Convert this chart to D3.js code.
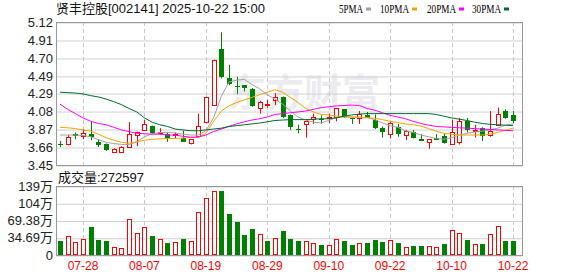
<!DOCTYPE html>
<html>
<head>
<meta charset="utf-8">
<script src="https://cdn.jsdelivr.net/npm/d3@7"></script>
<style>
  body { margin: 0; background: #fff; }
  svg text { font-family: "Liberation Sans", "Noto Sans CJK SC", sans-serif; }
</style>
</head>
<body>
<div id="chart"></div>
<script>
// trading days shown
const dates = ["07-23","07-24","07-25","07-28","07-29","07-30","07-31","08-01","08-04","08-05",
  "08-06","08-07","08-08","08-11","08-12","08-13","08-14","08-15","08-18","08-19",
  "08-20","08-21","08-22","08-25","08-26","08-27","08-28","08-29","09-01","09-02",
  "09-03","09-04","09-05","09-08","09-09","09-10","09-11","09-12","09-15","09-16",
  "09-17","09-18","09-19","09-22","09-23","09-24","09-25","09-26","09-29","09-30",
  "10-09","10-10","10-13","10-14","10-15","10-16","10-17","10-20","10-21","10-22"];

const opens = [3.70,3.70,3.81,3.79,3.81,3.72,3.695,3.60,3.60,3.66,
  3.80,3.86,3.90,3.83,3.81,3.80,3.77,3.70,3.79,3.95,
  4.16,4.81,4.47,4.375,4.38,4.34,4.12,4.155,4.21,4.24,
  4.03,3.875,3.92,3.99,3.985,4.005,4.01,4.10,3.995,3.99,
  4.03,3.98,3.88,3.81,3.89,3.80,3.84,3.75,3.72,3.77,
  3.79,3.70,3.72,3.96,3.855,3.88,3.80,3.92,4.08,4.03];
const closes = [3.695,3.78,3.79,3.82,3.77,3.69,3.62,3.64,3.66,3.81,
  3.83,3.93,3.82,3.84,3.76,3.81,3.72,3.75,3.91,4.24,
  4.68,4.48,4.40,4.37,4.35,4.14,4.19,4.165,4.24,4.01,
  3.89,3.87,3.96,4.01,3.98,4.01,4.11,4.01,3.99,4.04,
  4.00,3.89,3.83,3.94,3.81,3.85,3.77,3.73,3.75,3.75,
  3.71,3.84,3.96,3.85,3.86,3.79,3.85,4.05,4.00,3.96];
const highs = [3.73,3.80,3.83,3.87,3.96,3.75,3.70,3.645,3.67,3.95,
  3.84,3.98,3.91,3.88,3.83,3.83,3.85,3.75,4.05,4.25,
  4.68,5.00,4.62,4.48,4.38,4.35,4.20,4.21,4.29,4.25,
  4.04,3.92,3.965,4.05,4.03,4.05,4.11,4.10,4.00,4.08,
  4.07,4.04,3.90,3.95,3.93,3.86,3.86,3.81,3.75,3.81,
  3.82,3.98,4.00,4.00,3.92,3.89,4.08,4.12,4.10,4.08];
const lows = [3.66,3.68,3.75,3.75,3.74,3.66,3.615,3.60,3.60,3.66,
  3.67,3.86,3.81,3.80,3.72,3.76,3.72,3.69,3.78,3.94,
  4.15,4.46,4.38,4.28,4.31,4.13,4.05,4.12,4.15,4.00,
  3.86,3.82,3.77,3.93,3.93,3.94,3.96,4.00,3.93,3.93,
  4.00,3.87,3.77,3.76,3.78,3.74,3.76,3.73,3.64,3.75,
  3.70,3.69,3.69,3.83,3.77,3.73,3.78,3.91,3.99,3.94];

// volume in 万 shares, and whether the bar is drawn as an up (red) bar
const volumes = [28.8,38.2,26.1,31.5,56.3,30.2,28.8,15.4,13.4,71.7,
  44.2,55.6,38.2,31.5,24.8,26.1,32.2,28.2,85.8,114,
  128,129.4,83.1,66.4,40.2,52.3,41.5,28.2,33.5,48.3,
  32.2,28.8,28.2,23.5,20.1,20.1,31.5,28.8,20.1,24.1,
  24.8,30.2,26.8,30.2,24.1,15.4,18.1,18.1,18.1,16.1,
  22.1,50.3,44.2,30.2,22.1,22.1,42.2,58.3,28.8,27.26];
const volUp = [0,1,1,1,0,0,0,1,1,1, 1,1,0,1,0,1,0,1,1,1,
  1,0,0,0,0,0,1,0,1,0, 0,0,1,1,0,1,1,0,0,1,
  0,0,0,1,0,1,0,0,1,1, 0,1,1,0,1,0,1,1,0,0];
const lastVolume = 272597;

// moving averages
const ma5 = [3.80,3.80,3.80,3.795,3.78,3.745,3.715,3.70,3.69,3.69,
  3.72,3.78,3.815,3.83,3.83,3.825,3.81,3.80,3.80,3.85,
  4.00,4.25,4.42,4.44,4.45,4.39,4.34,4.27,4.22,4.16,
  4.08,4.01,3.975,3.95,3.94,3.97,4.005,4.01,4.01,4.01,
  4.005,3.98,3.94,3.91,3.89,3.85,3.83,3.80,3.78,3.76,
  3.75,3.77,3.80,3.82,3.835,3.845,3.86,3.88,3.915,3.93];
const ma10 = [3.89,3.885,3.875,3.86,3.845,3.81,3.77,3.74,3.715,3.705,
  3.72,3.74,3.75,3.755,3.76,3.76,3.765,3.77,3.775,3.82,
  3.96,4.08,4.14,4.18,4.21,4.24,4.27,4.30,4.33,4.30,
  4.24,4.18,4.11,4.07,4.04,4.035,4.02,4.015,4.01,4.005,
  4.00,3.995,3.98,3.96,3.945,3.93,3.92,3.905,3.875,3.845,
  3.82,3.81,3.80,3.80,3.80,3.80,3.81,3.83,3.855,3.88];
const ma20 = [4.16,4.10,4.05,4.00,3.96,3.935,3.92,3.89,3.86,3.84,
  3.82,3.815,3.81,3.81,3.80,3.80,3.785,3.775,3.775,3.80,
  3.84,3.87,3.90,3.93,3.955,3.975,3.99,4.01,4.04,4.05,
  4.06,4.07,4.08,4.10,4.12,4.13,4.14,4.145,4.15,4.145,
  4.11,4.09,4.06,4.03,4.01,3.99,3.96,3.935,3.915,3.90,
  3.895,3.89,3.885,3.88,3.875,3.87,3.865,3.86,3.855,3.85];
const ma30 = [4.30,4.295,4.29,4.28,4.26,4.245,4.22,4.19,4.155,4.11,
  4.07,4.00,3.95,3.92,3.90,3.87,3.86,3.85,3.85,3.86,
  3.87,3.88,3.90,3.91,3.92,3.93,3.94,3.955,3.97,3.975,
  3.98,3.98,3.98,3.985,3.99,3.99,4.00,4.02,4.035,4.045,
  4.05,4.05,4.05,4.05,4.05,4.05,4.05,4.05,4.05,4.04,
  4.02,4.00,3.985,3.97,3.95,3.935,3.925,3.92,3.915,3.91];

const priceTicks = [3.45,3.66,3.87,4.08,4.29,4.49,4.70,4.91,5.12];
const volTicks = [0,34.69,69.38,104.07,138.76];
const volTickLabels = ["0","34.69万","69.38万","104万","139万"];
const dateTicks = ["07-28","08-07","08-19","08-29","09-10","09-22","10-10","10-22"];

const maSeries = [
  { name: "5PMA", values: ma5, color: "#a0a0a0" },
  { name: "10PMA", values: ma10, color: "#f5a300" },
  { name: "20PMA", values: ma20, color: "#ff00ff" },
  { name: "30PMA", values: ma30, color: "#006b30" }
];

const UP = "#ff0000", DOWN = "#008000";
const W = 578, H = 276;
const left = 56, right = 522;
const priceTop = 22, priceBottom = 165;
const volTop = 186, volBottom = 255;

const svg = d3.select("#chart").append("svg")
  .attr("width", W).attr("height", H);

const x = d3.scalePoint().domain(dates).range([60, 513]);
const y = d3.scaleLinear().domain([3.45, 5.12]).range([priceBottom, priceTop]);
const yv = d3.scaleLinear().domain([0, 138.76]).range([volBottom, volTop]);

const px = d => Math.round(x(d)) + 0.5;

// watermark
svg.append("text")
  .attr("x", 228).attr("y", 106)
  .attr("font-size", 38).attr("font-weight", "bold")
  .attr("fill", "#ececf0")
  .style("font-family", "'Noto Sans CJK SC', sans-serif")
  .text("东方财富");

function panelGrid(scale, ticks, top, bottom) {
  // horizontal grid
  svg.append("g")
    .attr("transform", `translate(${left},0)`)
    .call(d3.axisLeft(scale).tickValues(ticks).tickSize(-(right - left)).tickFormat(""))
    .call(g => g.select(".domain").remove())
    .call(g => g.selectAll("line").attr("stroke", "#d0d0d0")
      .attr("transform", "translate(0,0.5)"));
  // vertical dashed lines at date ticks
  svg.append("g")
    .selectAll("line")
    .data(dateTicks)
    .join("line")
    .attr("x1", px).attr("x2", px)
    .attr("y1", top).attr("y2", bottom)
    .attr("stroke", "#c8c8c8")
    .attr("stroke-dasharray", "4,3");
  svg.append("rect")
    .attr("x", left + 0.5).attr("y", top + 0.5)
    .attr("width", right - left).attr("height", bottom - top)
    .attr("fill", "none").attr("stroke", "#999");
}

panelGrid(y, priceTicks, priceTop, priceBottom);
panelGrid(yv, volTicks, volTop, volBottom);

// price labels
svg.append("g")
  .selectAll("text")
  .data(priceTicks)
  .join("text")
  .attr("x", 53).attr("y", d => y(d))
  .attr("dy", "0.36em")
  .attr("text-anchor", "end")
  .attr("font-size", 13).attr("fill", "#222")
  .text(d => d.toFixed(2));

// volume labels
svg.append("g")
  .selectAll("text")
  .data(volTicks)
  .join("text")
  .attr("x", 53).attr("y", d => yv(d))
  .attr("dy", "0.36em")
  .attr("text-anchor", "end")
  .attr("font-size", 13).attr("fill", "#222")
  .text((d, i) => volTickLabels[i]);

// date labels
svg.append("g")
  .selectAll("text")
  .data(dateTicks)
  .join("text")
  .attr("x", d => x(d)).attr("y", 270)
  .attr("text-anchor", "middle")
  .attr("font-size", 12).attr("fill", UP)
  .text(d => d);

// candles
const candles = dates.map((d, i) => ({
  d, o: opens[i], c: closes[i], h: highs[i], l: lows[i], up: closes[i] >= opens[i]
}));

const cg = svg.append("g");
cg.selectAll("line")
  .data(candles)
  .join("line")
  .attr("x1", c => px(c.d)).attr("x2", c => px(c.d))
  .attr("y1", c => y(c.h)).attr("y2", c => y(c.l))
  .attr("stroke", c => c.up ? UP : DOWN);

cg.selectAll("rect")
  .data(candles)
  .join("rect")
  .attr("x", c => Math.round(x(c.d)) - 2 + (c.up ? 0.5 : 0))
  .attr("width", c => c.up ? 4 : 5)
  .attr("y", c => Math.round(y(Math.max(c.o, c.c))) + (c.up ? 0.5 : 0))
  .attr("height", c => Math.max(1, Math.round(Math.abs(y(c.o) - y(c.c)))))
  .attr("fill", c => c.up ? "#fff" : DOWN)
  .attr("stroke", c => c.up ? UP : "none");

// moving average lines
const line = d3.line().x((v, i) => x(dates[i])).y(v => y(v));
svg.append("g")
  .selectAll("path")
  .data(maSeries)
  .join("path")
  .attr("d", s => line(s.values))
  .attr("fill", "none")
  .attr("stroke", s => s.color)
  .attr("stroke-width", 1);

// volume bars
svg.append("g")
  .selectAll("rect")
  .data(dates)
  .join("rect")
  .attr("x", (d, i) => Math.round(x(d)) - 2 + (volUp[i] ? 0.5 : 0))
  .attr("width", (d, i) => volUp[i] ? 4 : 5)
  .attr("y", (d, i) => Math.round(yv(volumes[i])) + (volUp[i] ? 0.5 : 0))
  .attr("height", (d, i) => volBottom - Math.round(yv(volumes[i])) - (volUp[i] ? 1 : 0))
  .attr("fill", (d, i) => volUp[i] ? "#fff" : DOWN)
  .attr("stroke", (d, i) => volUp[i] ? UP : "none");

// title
svg.append("text")
  .attr("x", 56).attr("y", 13)
  .attr("font-size", 13).attr("fill", "#111")
  .text("贤丰控股[002141] 2025-10-22 15:00");

// legend
const legendX = [339, 380, 427, 472];
const legendW = [24, 29, 29, 29];
const lg = svg.append("g").selectAll("g")
  .data(maSeries)
  .join("g");
lg.append("text")
  .attr("x", (s, i) => legendX[i]).attr("y", 12.5)
  .attr("font-size", 12.5).attr("fill", "#000")
  .attr("textLength", (s, i) => legendW[i])
  .attr("lengthAdjust", "spacingAndGlyphs")
  .style("font-family", "'Liberation Serif', serif")
  .text(s => s.name);
lg.append("rect")
  .attr("x", (s, i) => legendX[i] + legendW[i] + 3).attr("y", 7.5)
  .attr("width", 5).attr("height", 3)
  .attr("fill", s => s.color);

// volume header
svg.append("text")
  .attr("x", 58).attr("y", 182)
  .attr("font-size", 13).attr("fill", "#111")
  .text("成交量:" + lastVolume);
</script>
</body>
</html>
